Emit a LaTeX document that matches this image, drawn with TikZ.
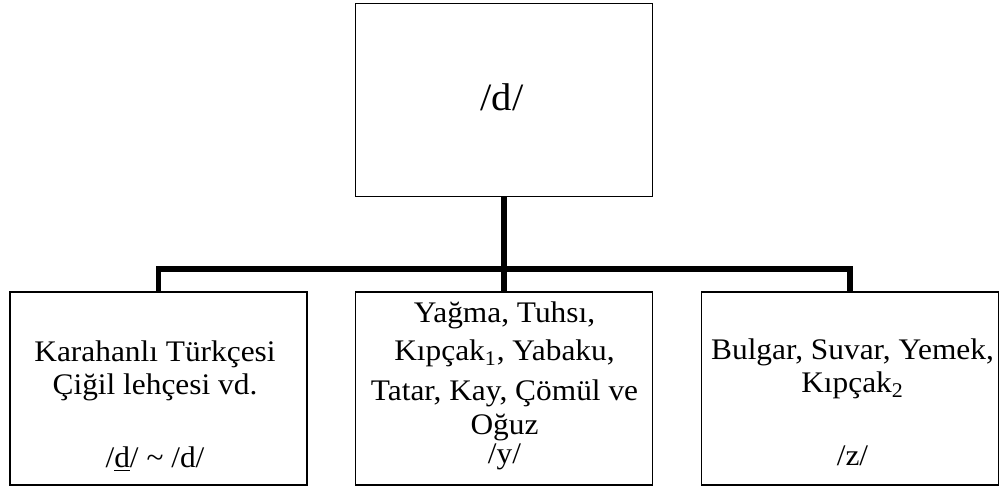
\documentclass[tikz,border=0pt]{standalone}
\usepackage{fontspec}
\setmainfont[FakeStretch=1.05]{Liberation Serif}

\begin{document}
\begin{tikzpicture}[
	box/.style={draw,line width=0.6pt,minimum width=5.94cm,minimum height=3.86cm,inner sep=0pt},
	txt/.style={align=center,inner sep=0pt,anchor=north,font=\fontsize{17}{19}\selectfont},
	link/.style={line width=3.4pt}]
\useasboundingbox (0,0) rectangle (20,-9.72);
\node[box] (root) at (10.08,-2.0) {};
\node[box] (karahanli) at (3.17,-7.77) {};
\node[box] (yagma) at (10.08,-7.77) {};
\node[box] (bulgar) at (17.0,-7.77) {};
\node[txt,anchor=base,font=\fontsize{22}{26}\selectfont] (rootTxt) at (10.04,-2.2) {/d/};
\node[txt] (karahanliTxt) at (3.1,-6.80) {Karahanlı Türkçesi\\Çiğil lehçesi vd.\\[0.79cm]/\underline{d}/ \textasciitilde{} /d/};
\node[txt] (yagmaTxt) at (10.09,-6.02) {Yağma, Tuhsı,\\[0.11cm]Kıpçak\textsubscript{1}, Yabaku,\\[0.13cm]Tatar, Kay, Çömül ve\\Oğuz\\[-0.09cm]/y/};
\node[txt] (bulgarTxt) at (17.05,-6.76) {Bulgar, Suvar, Yemek,\\Kıpçak\textsubscript{2}\\[0.79cm]/z/};
\draw[link] (root.south) -- (yagma.north);
\draw[link] (karahanli.north) -- ++(0,0.44) -| (bulgar.north);
\end{tikzpicture}
\end{document}
